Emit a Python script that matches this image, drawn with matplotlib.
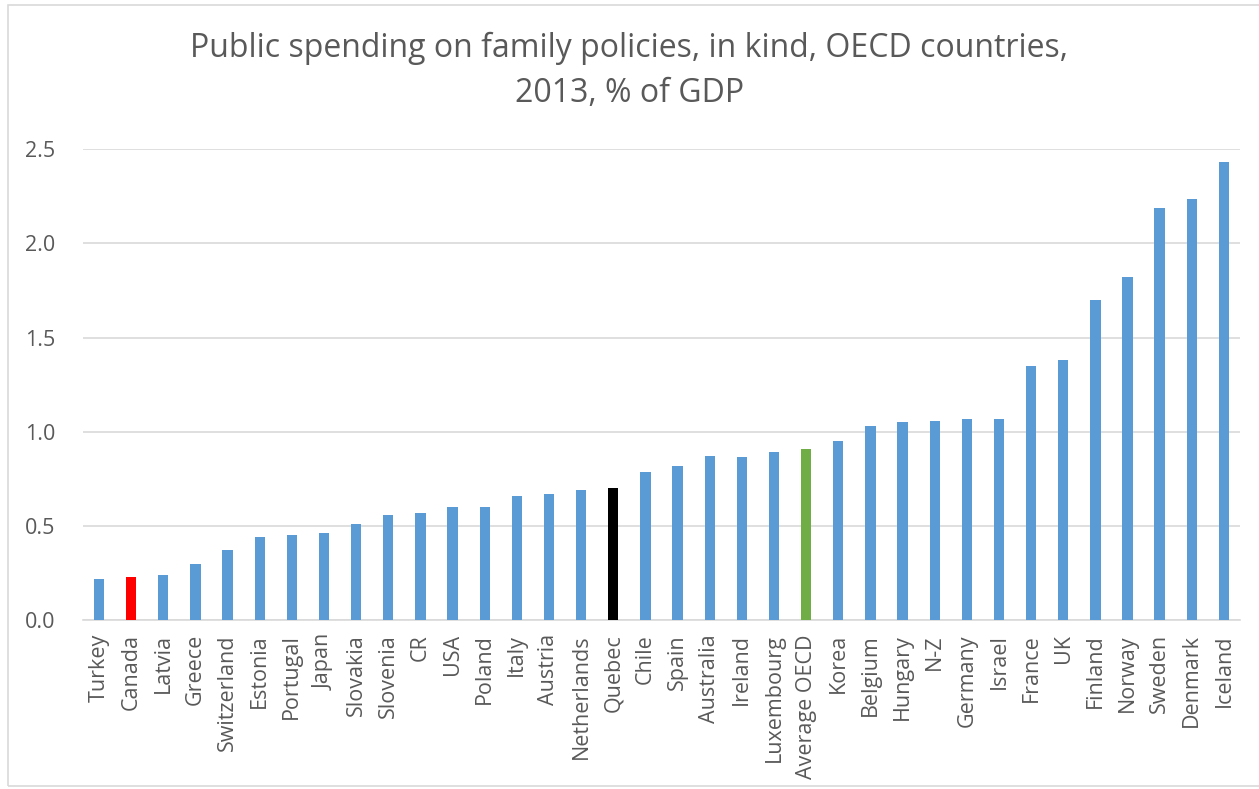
import matplotlib
matplotlib.use("Agg")
import matplotlib.pyplot as plt
from matplotlib.patches import Rectangle

countries = ["Turkey", "Canada", "Latvia", "Greece", "Switzerland", "Estonia",
             "Portugal", "Japan", "Slovakia", "Slovenia", "CR", "USA", "Poland",
             "Italy", "Austria", "Netherlands", "Quebec", "Chile", "Spain",
             "Australia", "Ireland", "Luxembourg", "Average OECD", "Korea",
             "Belgium", "Hungary", "N-Z", "Germany", "Israel", "France", "UK",
             "Finland", "Norway", "Sweden", "Denmark", "Iceland"]
spending = [0.22, 0.23, 0.24, 0.30, 0.37, 0.44, 0.45, 0.46, 0.51, 0.56, 0.57,
            0.60, 0.60, 0.66, 0.67, 0.69, 0.70, 0.785, 0.82, 0.87, 0.865, 0.89,
            0.91, 0.95, 1.03, 1.05, 1.055, 1.07, 1.07, 1.35, 1.38, 1.70, 1.82,
            2.19, 2.235, 2.43]
highlight = {"Canada": "#FF0000", "Quebec": "#000000", "Average OECD": "#70AD47"}

plt.rcParams['font.family'] = ['Open Sans', 'DejaVu Sans']

fig = plt.figure(figsize=(12.59, 7.89), dpi=100)
ax = fig.add_axes([0.0659, 0.214, 0.919, 0.597])

colors = [highlight.get(c, "#5B9BD5") for c in countries]
x = list(range(len(countries)))
ax.bar(x, spending, width=0.32, color=colors, zorder=3)

ax.set_xlim(-0.5, len(countries) - 0.5)
ax.set_ylim(0, 2.5)
ax.set_yticks([0, 0.5, 1.0, 1.5, 2.0, 2.5])
ax.set_yticklabels(["0.0", "0.5", "1.0", "1.5", "2.0", "2.5"])
ax.yaxis.grid(True, color="#D9D9D9", linewidth=1.2, zorder=0)
ax.set_xticks(x)
ax.set_xticklabels(countries, rotation=90)
ax.tick_params(axis="both", length=0, labelsize=15.5, colors="#595959")
ax.tick_params(axis="y", pad=20)
ax.tick_params(axis="x", pad=10)
for side in ["top", "right", "left"]:
    ax.spines[side].set_visible(False)
ax.spines["bottom"].set_color("#D9D9D9")
ax.spines["bottom"].set_linewidth(1.2)

fig.text(0.5, 0.910, "Public spending on family policies, in kind, OECD countries,\n2013, % of GDP",
         ha="center", va="center", fontsize=23, color="#595959", linespacing=1.5)

# chart border like the spreadsheet frame
fig.patches.append(Rectangle((8 / 1259, 3 / 789), 1.0, 1 - 8 / 789,
                             transform=fig.transFigure, fill=False,
                             edgecolor="#D9D9D9", linewidth=1.2))

fig.savefig("out.png", dpi=100)
